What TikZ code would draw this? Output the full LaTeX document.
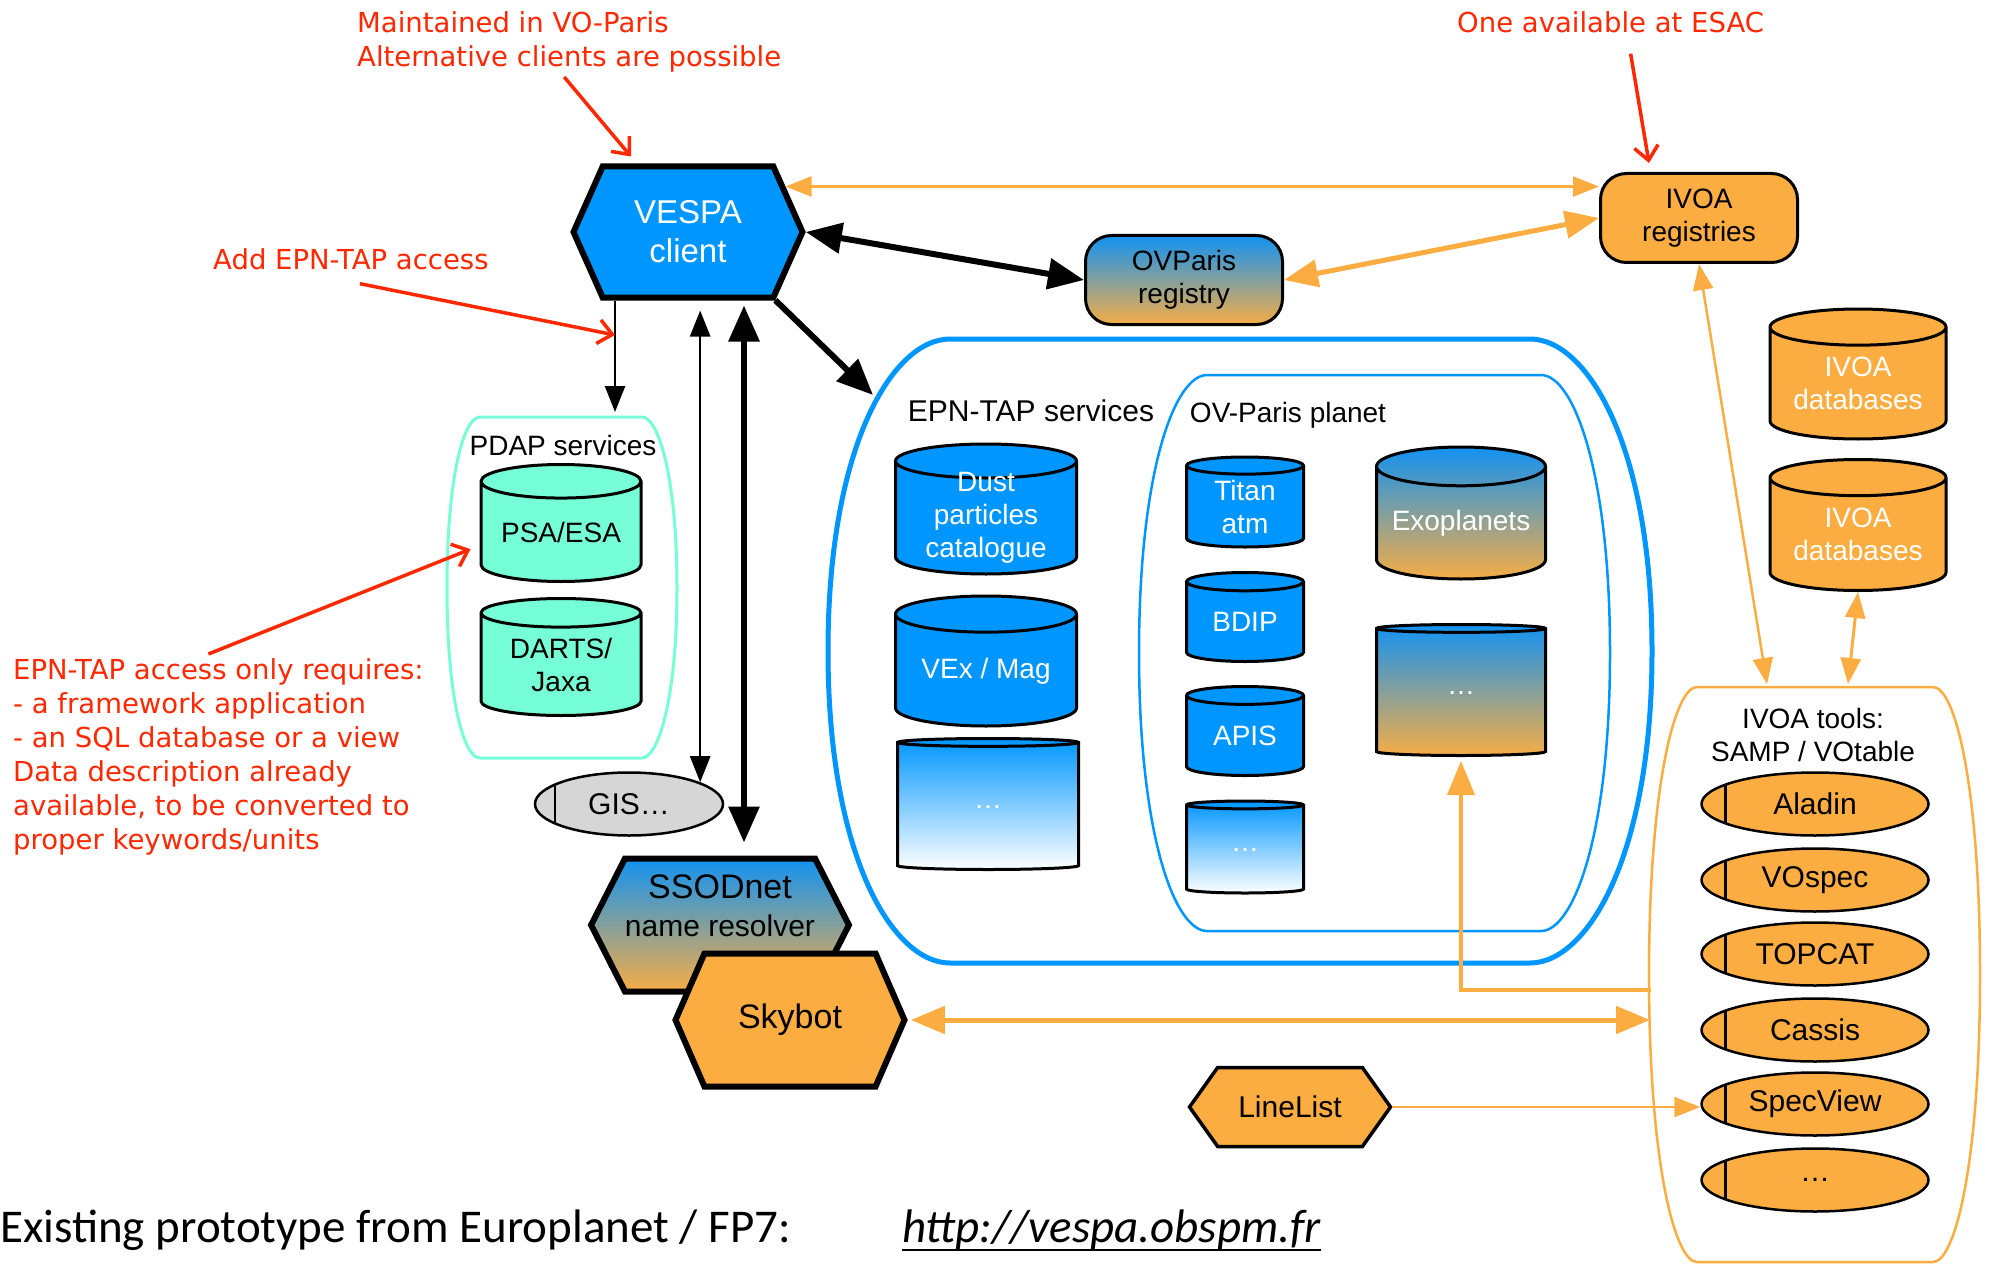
\documentclass[tikz,border=0pt]{standalone}
\usepackage{fontspec}
\setmainfont{Liberation Sans}
\newfontfamily\notefont{DejaVu Sans}
\newfontfamily\footfont{Carlito}
\usetikzlibrary{arrows.meta,shapes.geometric,shapes.symbols,positioning}

\definecolor{vespablue}{RGB}{0,150,255}
\definecolor{voorange}{RGB}{251,173,65}
\definecolor{pdapgreen}{RGB}{118,255,214}
\definecolor{gisgrey}{RGB}{214,214,214}
\definecolor{notered}{RGB}{255,40,0}
\definecolor{gradblue}{RGB}{18,146,242}
\definecolor{gradorange}{RGB}{246,173,70}

\newcommand\linkline[1]{\setbox0\hbox{#1}\rlap{\rule[-9pt]{\wd0}{2.5pt}}\box0}

\tikzset{
  hexa/.style={signal, signal to=east and west, draw=black, line width=6pt,
    inner sep=0pt, align=center},
  regbox/.style={rectangle, rounded corners=26pt, draw=black, line width=3pt,
    minimum width=197pt, minimum height=89pt, align=center,
    font=\fontsize{28}{33}\selectfont},
  dbase/.style={cylinder, shape border rotate=90, aspect=0.28, draw=black,
    line width=3pt, inner sep=0pt, align=center, anchor=shape center,
    font=\fontsize{28}{33}\selectfont},
  tool/.style={ellipse, draw=black, line width=2.5pt, fill=voorange,
    minimum width=227pt, minimum height=63pt, inner sep=0pt,
    font=\fontsize{30}{36}\selectfont,
    path picture={\draw[line width=2.5pt]
      ([xshift=24pt]path picture bounding box.north west) --
      ([xshift=24pt]path picture bounding box.south west);}},
  boxlabel/.style={inner sep=0pt, align=center, font=\fontsize{28}{33}\selectfont},
  note/.style={notered, inner sep=0pt, align=left,
    font=\notefont\fontsize{27.5}{34}\selectfont},
  redarr/.style={notered, line width=3.5pt, -{Straight Barb[length=14pt,width=24pt]}},
  blkbig/.style={line width=6pt,
    {Triangle[length=36pt,width=30pt]}-{Triangle[length=36pt,width=30pt]}},
  blkbigone/.style={line width=6pt, -{Triangle[length=36pt,width=30pt]}},
  blkthin/.style={line width=2.5pt, -{Triangle[length=26pt,width=20pt]}},
  blkthinboth/.style={line width=2.5pt,
    {Triangle[length=26pt,width=20pt]}-{Triangle[length=26pt,width=20pt]}},
  orthin/.style={voorange, line width=2.5pt,
    {Triangle[length=26pt,width=20pt]}-{Triangle[length=26pt,width=20pt]}},
  orthinone/.style={voorange, line width=2.5pt, -{Triangle[length=26pt,width=20pt]}},
  orthick/.style={voorange, line width=5pt,
    {Triangle[length=34pt,width=27pt]}-{Triangle[length=34pt,width=27pt]}},
  ormid/.style={voorange, line width=4pt, -{Triangle[length=34pt,width=27pt]}},
}

\begin{document}
\begin{tikzpicture}[x=1pt,y=-1pt]
\fill[white] (0,0) rectangle (1991,1265);
\useasboundingbox (0,0) rectangle (1991,1265);

% containers
\draw[pdapgreen, line width=3pt] (480,417) -- (642,417)
  .. controls (658,417) and (677,475) .. (677,588)
  .. controls (677,700) and (658,758) .. (642,758) -- (480,758)
  .. controls (464,758) and (447,700) .. (447,588)
  .. controls (447,475) and (464,417) .. (480,417) -- cycle;
\draw[vespablue, line width=5pt] (950,339) -- (1530,339)
  .. controls (1587,339) and (1652,445) .. (1652,651)
  .. controls (1652,857) and (1587,963) .. (1530,963) -- (950,963)
  .. controls (893,963) and (828,857) .. (828,651)
  .. controls (828,445) and (893,339) .. (950,339) -- cycle;
\draw[vespablue, line width=2.5pt] (1207,375) -- (1541,375)
  .. controls (1573,375) and (1610,470) .. (1610,653)
  .. controls (1610,836) and (1573,931) .. (1541,931) -- (1207,931)
  .. controls (1175,931) and (1139,836) .. (1139,653)
  .. controls (1139,470) and (1175,375) .. (1207,375) -- cycle;
\draw[voorange, line width=2.5pt] (1697,687) -- (1933,687)
  .. controls (1955,687) and (1980,785) .. (1980,975)
  .. controls (1980,1164) and (1955,1262) .. (1933,1262) -- (1697,1262)
  .. controls (1675,1262) and (1649,1164) .. (1649,975)
  .. controls (1649,785) and (1675,687) .. (1697,687) -- cycle;

\node[boxlabel] (pdaplbl) at (563,445) {PDAP services};
\node[boxlabel, font=\fontsize{30}{36}\selectfont] (epnlbl) at (1031,411) {EPN-TAP services};
\node[boxlabel] (ovplbl) at (1288,415) {OV-Paris planet};
\node[boxlabel] (toolslbl) at (1813,735) {IVOA tools:\\SAMP / VOtable};

% clients and registries
\node[hexa, fill=vespablue, text=white, signal pointer angle=132,
  minimum width=229pt, minimum height=131pt,
  font=\fontsize{33}{39}\selectfont] (vespa) at (688,232) {VESPA\\client};
\node[regbox, top color=gradblue, bottom color=gradorange] (ovreg) at (1184,280) {OVParis\\registry};
\node[regbox, fill=voorange] (ivoareg) at (1699,218) {IVOA\\registries};

% databases
\node[dbase, fill=pdapgreen, minimum width=160pt, minimum height=117pt] (psa) at (561,523) {PSA/ESA};
\node[dbase, fill=pdapgreen, minimum width=160pt, minimum height=117pt] (darts) at (561,657) {DARTS/\\Jaxa};
\node[dbase, fill=vespablue, text=white, inner ysep=-12pt, minimum width=181pt, minimum height=130pt] (dust) at (986,509) {Dust\\particles\\catalogue};
\node[dbase, fill=vespablue, text=white, minimum width=181pt, minimum height=130pt] (vexmag) at (986,661) {VEx / Mag};
\node[dbase, top color=vespablue, bottom color=white, text=white, minimum width=181pt, minimum height=131pt] (epndots) at (988,804) {\ldots};
\node[dbase, fill=vespablue, text=white, minimum width=117pt, minimum height=90pt] (titan) at (1245,502) {Titan\\atm};
\node[dbase, fill=vespablue, text=white, minimum width=117pt, minimum height=89pt] (bdip) at (1245,617) {BDIP};
\node[dbase, fill=vespablue, text=white, minimum width=117pt, minimum height=89pt] (apis) at (1245,731) {APIS};
\node[dbase, top color=vespablue, bottom color=white, text=white, minimum width=117pt, minimum height=92pt] (ovdots) at (1245,847) {\ldots};
\node[dbase, top color=gradblue, bottom color=gradorange, text=white, minimum width=169pt, minimum height=132pt] (exo) at (1461,513) {Exoplanets};
\node[dbase, top color=gradblue, bottom color=gradorange, text=white, minimum width=169pt, minimum height=131pt] (exodots) at (1461,690) {\ldots};
\node[dbase, fill=voorange, text=white, minimum width=176pt, minimum height=130pt] (ivoadb1) at (1858,374) {IVOA\\databases};
\node[dbase, fill=voorange, text=white, minimum width=176pt, minimum height=131pt] (ivoadb2) at (1858,525) {IVOA\\databases};

% tools
\node[tool, fill=gisgrey, minimum width=188pt,
  path picture={\draw[line width=2.5pt]
    ([xshift=20pt]path picture bounding box.north west) --
    ([xshift=20pt]path picture bounding box.south west);}] (gis) at (629,804) {GIS\ldots};
\node[tool] (aladin) at (1815,804) {Aladin};
\node[tool] (vospec) at (1815,880) {VOspec};
\node[tool] (topcat) at (1815,954) {TOPCAT};
\node[tool] (cassis) at (1815,1030) {Cassis};
\node[tool] (specview) at (1815,1104) {SpecView};
\node[tool] (tooldots) at (1815,1180) {\ldots};

\node[hexa, top color=gradblue, bottom color=gradorange, signal pointer angle=126,
  minimum width=249pt, minimum height=133pt,
  font=\fontsize{30}{38}\selectfont] (ssod) at (720,925)
  {{\fontsize{34}{38}\selectfont SSODnet}\\name resolver\\\mbox{}};
\node[hexa, fill=voorange, signal pointer angle=133,
  minimum width=229pt, minimum height=133pt,
  font=\fontsize{34}{40}\selectfont] (skybot) at (790,1020) {Skybot};
\node[hexa, fill=voorange, line width=3.5pt, signal pointer angle=109,
  minimum width=201pt, minimum height=79pt,
  font=\fontsize{30}{36}\selectfont] (linelist) at (1290,1107) {LineList};

% connectors
\coordinate (pdaptop) at (615,412);
\coordinate (epntip) at (873,395);
\coordinate (toolsin) at (1650,1020);
\coordinate (toolsback) at (1651,990);
\coordinate (toolsreg) at (1767,684);
\coordinate (toolsdb) at (1848,684);
\coordinate (ssodtop) at ([xshift=24pt]ssod.north);

\draw[blkbig] (vespa.east) -- (ovreg.west);
\draw[orthin] (vespa.25) -- (vespa.25 -| ivoareg.west);
\draw[orthick] (ovreg.east) -- (ivoareg.west);
\draw[blkthin] (vespa.south -| pdaptop) -- (pdaptop);
\draw[blkthinboth, shorten <=10pt] (vespa.south -| gis.17) -- (gis.17);
\draw[blkbig, shorten <=5pt, shorten >=13pt] (vespa.south -| ssodtop) -- (ssodtop);
\draw[blkbigone] (vespa.-38) -- (epntip);
\draw[orthick, shorten <=3pt] (skybot.east) -- (toolsin);
\draw[ormid, shorten >=4pt] (toolsback) -| (exodots.south);
\draw[orthinone] (linelist.east) -- (linelist.east -| specview.west);
\draw[orthin] (ivoareg.south) -- (toolsreg);
\draw[orthin, line width=3pt] (ivoadb2.south) -- (toolsdb);

% notes
\node[note, anchor=north west] (noteA) at (357,11) {Maintained in VO-Paris\\Alternative clients are possible};
\node[note, anchor=north west] (noteB) at (213,248) {Add EPN-TAP access};
\node[note, anchor=north west] (noteC) at (13,658) {EPN-TAP access only requires:\\- a framework application\\- an SQL database or a view\\Data description already\\available, to be converted to\\proper keywords/units};
\node[note, anchor=north west] (noteD) at (1457,11) {One available at ESAC};

\draw[redarr] ([xshift=-5pt,yshift=-5pt]noteA.south) -- ([xshift=-57pt,yshift=7pt]vespa.north);
\draw[redarr] ([xshift=9pt,yshift=-14pt]noteB.south) -- ([yshift=77pt]pdaptop);
\draw[redarr] ([xshift=-10pt,yshift=4pt]noteC.north) -- ([xshift=-9pt,yshift=-17pt]psa.west);
\draw[redarr] ([xshift=20pt,yshift=-21pt]noteD.south) -- ([xshift=-50pt,yshift=9pt]ivoareg.north);

% footer
\node[anchor=base west, inner sep=0pt, font=\footfont\fontsize{47}{56}\selectfont] (foot) at (0,1242)
  {Existing prototype from Europlanet / FP7:};
\node[anchor=base west, inner sep=0pt, font=\footfont\fontsize{47}{56}\selectfont] (url) at (902,1242)
  {\linkline{\itshape http://vespa.obspm.fr}};
\end{tikzpicture}
\end{document}
